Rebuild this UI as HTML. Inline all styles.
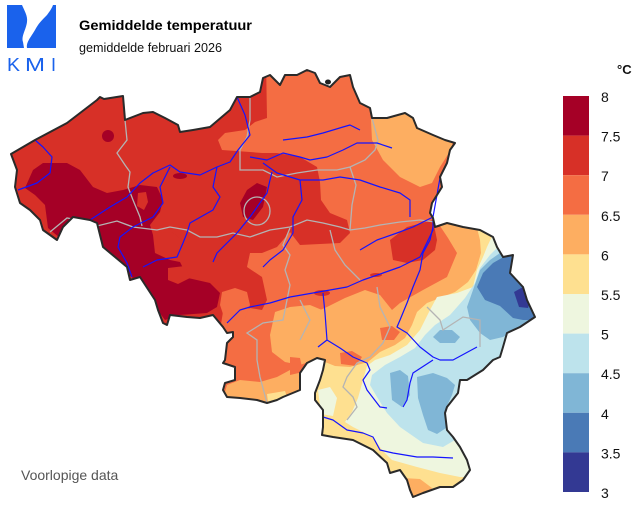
<!DOCTYPE html>
<html><head><meta charset="utf-8"><style>
html,body{margin:0;padding:0;background:#fff;}
svg{display:block;}
text{font-family:"Liberation Sans",Arial,sans-serif;}
</style></head><body>
<svg width="640" height="507" viewBox="0 0 640 507" xmlns="http://www.w3.org/2000/svg">
<defs>
<clipPath id="be"><polygon id="bep" points="11,154 35,140 67,123 97,100 100,97 104,99 123,96 125,120 143,113 153,112 165,118 178,125 180,132 193,130 210,127 230,110 237,97 250,97 260,92 263,78 270,75 280,85 285,75 297,75 307,70 315,73 320,83 330,87 340,77 350,75 353,87 360,103 370,108 372,118 387,118 405,113 413,118 417,128 433,135 445,140 455,143 450,150 447,163 440,177 442,187 432,203 430,213 433,218 435,227 447,223 463,227 480,230 493,237 497,247 503,257 513,255 510,273 523,287 527,300 535,317 520,327 507,333 503,347 500,357 493,360 483,370 467,380 460,380 458,393 447,407 445,413 447,430 453,437 460,447 467,460 470,470 463,480 453,487 440,487 423,493 413,497 410,490 407,480 400,470 390,473 387,463 373,450 353,440 333,437 322,435 323,427 323,410 315,400 315,393 320,380 323,370 325,360 317,358 307,363 300,373 300,390 283,397 277,400 267,403 257,400 240,398 227,397 223,390 225,383 235,380 235,367 223,363 225,360 227,343 233,337 233,332 227,333 223,327 213,315 200,318 187,317 170,315 167,325 163,323 158,310 155,300 140,277 130,280 127,267 103,247 97,223 90,220 73,217 63,227 57,240 43,230 40,220 30,210 20,203 15,187 17,170"/></clipPath>
</defs>

<!-- Logo -->
<g fill="#1a62ec">
<path d="M7,5 L22,5 C24,10 28,16 27,22 C26,30 21,36 23,42 L24,48 L7,48 Z"/>
<path d="M53,5 L56,5 L56,48 L27,48 C26,42 31,37 35,30 C38,24 42,20 47,15 C50,11 52,8 53,5 Z"/>
</g>
<g font-size="18" fill="#1a62ec">
<text x="7" y="71" textLength="13" lengthAdjust="spacingAndGlyphs">K</text>
<text x="25" y="71" textLength="20" lengthAdjust="spacingAndGlyphs">M</text>
<text x="51" y="71">I</text>
</g>

<!-- Titles -->
<text x="79" y="30" font-size="14" font-weight="bold" fill="#000" textLength="173" lengthAdjust="spacingAndGlyphs">Gemiddelde temperatuur</text>
<text x="79" y="52" font-size="13" fill="#111" textLength="143" lengthAdjust="spacingAndGlyphs">gemiddelde februari 2026</text>

<!-- Map -->
<g clip-path="url(#be)" stroke="none">
<rect x="0" y="60" width="560" height="447" fill="#f46d43"/>
<!-- red 7-7.5 -->
<polygon fill="#d73027" points="0,60 266,60 267,118 255,122 245,130 225,133 218,140 222,150 250,152 262,153 277,153 300,157 317,167 320,182 321,200 330,213 347,220 350,233 340,243 300,245 290,232 277,247 262,253 250,253 247,267 262,277 267,300 262,310 250,308 240,315 228,312 225,300 220,330 0,330"/>
<polygon fill="#d73027" points="390,240 407,227 433,220 437,240 435,250 423,260 407,263 393,260"/>
<ellipse cx="322" cy="293" rx="8" ry="3" fill="#d73027"/>
<ellipse cx="376" cy="275" rx="6" ry="2" fill="#d73027"/>
<!-- orange patches within red -->
<polygon fill="#f46d43" points="222,292 235,288 247,292 250,305 245,318 225,320 220,305"/>
<!-- dark red 7.5-8 -->
<polygon fill="#a50026" points="33,170 43,163 67,163 80,170 93,187 107,193 123,190 140,185 157,187 163,200 160,212 150,225 153,235 155,253 170,260 180,262 188,278 210,283 220,293 217,307 207,313 180,315 165,320 150,300 135,280 100,250 97,240 60,238 48,228 45,205 35,195 25,188"/>
<polygon fill="#d73027" points="157,233 172,232 182,240 181,252 170,256 158,252"/>
<polygon fill="#d73027" points="138,193 146,192 148,202 144,210 137,206"/>
<polygon fill="#d73027" points="168,268 185,266 190,278 178,284 168,280"/>
<polygon fill="#a50026" points="247,190 257,183 267,187 263,207 253,220 243,217 240,203"/>
<circle cx="108" cy="136" r="6" fill="#a50026"/>
<ellipse cx="180" cy="176" rx="7" ry="3" fill="#a50026"/>
<!-- light orange 6-6.5 -->
<polygon fill="#fdae61" points="370,100 372,140 383,160 400,177 420,187 432,183 440,167 452,148 455,100"/>
<polygon fill="#fdae61" points="275,312 290,307 310,305 322,310 322,330 320,358 300,365 285,362 272,352 270,335"/>
<polygon fill="#fdae61" points="227,385 240,380 260,382 277,377 290,370 300,367 305,410 220,410"/>
<polygon fill="#fee090" points="267,394 285,391 288,400 268,402"/>
<polygon fill="#fdae61" points="320,310 327,307 345,298 365,290 380,295 392,310 400,303 423,290 447,277 457,253 448,238 440,226 470,215 560,220 560,507 300,507 300,380 318,360"/>
<polygon fill="#f46d43" points="380,328 392,326 400,332 394,340 382,340"/>
<polygon fill="#f46d43" points="340,353 352,351 362,357 356,366 341,364"/>
<polygon fill="#f46d43" points="290,357 300,358 303,372 290,375"/>
<!-- yellow 5.5-6 -->
<polygon fill="#fee090" points="475,220 480,240 481,253 476,270 468,282 455,292 440,298 427,303 417,312 412,325 405,338 395,345 380,352 368,362 350,367 335,366 325,362 312,368 305,400 320,507 560,507 560,200"/>
<!-- light green 5-5.5 -->
<polygon fill="#eef6df" points="495,230 487,247 483,257 477,270 473,287 457,293 437,297 430,310 420,330 407,345 390,355 375,360 367,366 363,380 358,398 352,412 345,422 353,427 373,437 382,450 392,460 417,467 440,473 460,477 560,478 560,220"/>
<polygon fill="#eef6df" points="318,390 330,387 337,398 333,416 321,414"/>
<!-- light blue 4.5-5 -->
<polygon fill="#bde3ec" points="500,245 490,255 480,268 475,283 465,298 450,315 435,325 425,335 415,348 400,357 385,365 372,375 370,385 377,397 387,413 400,427 423,443 443,447 455,440 560,436 560,230"/>
<!-- mid blue 4-4.5 -->
<polygon fill="#80b6d6" points="510,250 500,253 490,260 480,270 473,290 467,307 470,320 480,333 490,340 503,337 515,330 560,330 560,250"/>
<polygon fill="#80b6d6" points="390,373 400,370 408,376 410,395 402,407 392,400"/>
<polygon fill="#80b6d6" points="417,377 433,373 447,378 455,385 452,395 445,410 446,428 437,434 428,430 423,415 418,398"/>
<polygon fill="#80b6d6" points="433,337 440,330 452,330 460,337 455,343 440,343"/>
<!-- blue 3.5-4 -->
<polygon fill="#4a7ab6" points="477,287 483,273 493,263 507,255 515,258 525,285 545,320 523,320 513,318 500,306 485,300"/>
<!-- dark blue 3-3.5 -->
<polygon fill="#333993" points="514,292 523,287 531,299 528,308 519,307"/>
<!-- light orange tip -->
<polygon fill="#fdae61" points="403,478 420,479 432,488 428,505 400,505"/>
</g>

<!-- province borders -->
<g clip-path="url(#be)" fill="none" stroke="#b4b4b4" stroke-width="1.3">
<polyline points="123,97 125,120 127,140 117,153 125,165 130,172 128,187 133,200 140,217 142,226"/>
<polyline points="50,232 67,218 83,221 97,226 117,221 133,227 157,230 170,227 187,230 200,237 217,237 233,233 250,237 270,230 290,227 307,220 323,223 340,227 350,230 365,228 380,225 400,222 420,220 435,222"/>
<polyline points="250,97 250,120 247,137 240,150 240,170 263,170 277,177 297,173 317,170 337,170 350,167 365,160 375,150 378,140 372,118"/>
<polyline points="350,167 356,185 352,205 350,230"/>
<ellipse cx="257" cy="211" rx="13" ry="14"/>
<polyline points="287,300 290,285 285,270 290,255 283,245 290,228"/>
<polyline points="287,300 283,320 263,323 247,333 257,340 257,360 260,377 267,403"/>
<polyline points="377,287 380,307 390,327 383,343 370,357 357,363 347,377 343,387 353,397 357,407 347,420"/>
<polyline points="427,307 440,320 443,330 463,317 480,320 480,347"/>
<polyline points="330,230 335,250 345,265 360,280"/>
<polyline points="300,300 310,320 300,340"/>
</g>

<!-- rivers -->
<g fill="none" stroke="#1414ff" stroke-width="1.2" stroke-linejoin="round">
<polyline points="35,140 43,147 52,157 50,173 37,183 18,190"/>
<polyline points="90,220 110,207 127,197 140,183 153,173 170,165 180,172 200,175 217,167 230,162 238,150 250,135 245,115 237,97"/>
<polyline points="132,277 127,263 118,247 120,237 133,227 153,217 163,203 160,187 170,167"/>
<polyline points="217,167 213,187 220,197 213,210 190,223 187,233 183,243 177,257 157,260 143,267"/>
<polyline points="272,172 270,180 267,193 250,217 237,233 217,253 213,262"/>
<polyline points="250,157 267,160 283,153 300,157 310,160 327,157 343,150 357,143 377,143 392,148"/>
<polyline points="283,140 307,137 323,133 343,127 350,125 360,130"/>
<polyline points="263,163 277,173 300,180 323,180 340,177 360,180 380,187 400,193 410,200 410,217"/>
<polyline points="300,180 302,200 293,217 293,233 283,250 270,260 263,267"/>
<polyline points="440,178 433,217 433,230 420,257 400,267 383,273 363,280 347,287 330,290 313,293 290,297 270,303 250,307 240,310 227,323"/>
<polyline points="360,250 377,240 397,233 413,227 433,217"/>
<polyline points="323,293 325,313 327,340 318,347"/>
<polyline points="327,340 340,348 353,357 367,363 370,370 363,380 367,390 380,407 387,408"/>
<polyline points="433,227 430,240 423,253 420,270 413,287 407,303 400,320 397,327 407,333 420,347 433,357 440,360 453,360 477,347"/>
<polyline points="433,360 413,373 410,383 407,400 403,407"/>
<polyline points="323,417 333,420 347,430 363,433 373,437 380,450 393,453 417,457 433,457 453,458"/>
</g>

<!-- outline -->
<use href="#bep" fill="none" stroke="#2a2a2a" stroke-width="2" stroke-linejoin="round"/>
<ellipse cx="328" cy="82" rx="3" ry="2.5" fill="#222"/>

<text x="21" y="480" font-size="14" fill="#555">Voorlopige data</text>

<!-- legend -->
<text x="617" y="74" font-size="13" font-weight="bold" fill="#111">°C</text>
<g>
<rect x="563" y="96" width="26" height="39.6" fill="#a50026"/>
<rect x="563" y="135.6" width="26" height="39.6" fill="#d73027"/>
<rect x="563" y="175.2" width="26" height="39.6" fill="#f46d43"/>
<rect x="563" y="214.8" width="26" height="39.6" fill="#fdae61"/>
<rect x="563" y="254.4" width="26" height="39.6" fill="#fee090"/>
<rect x="563" y="294" width="26" height="39.6" fill="#eef6df"/>
<rect x="563" y="333.6" width="26" height="39.6" fill="#bde3ec"/>
<rect x="563" y="373.2" width="26" height="39.6" fill="#80b6d6"/>
<rect x="563" y="412.8" width="26" height="39.6" fill="#4a7ab6"/>
<rect x="563" y="452.4" width="26" height="39.6" fill="#333993"/>
</g>
<g font-size="14" fill="#111">
<text x="601" y="102">8</text>
<text x="601" y="141.6">7.5</text>
<text x="601" y="181.2">7</text>
<text x="601" y="220.8">6.5</text>
<text x="601" y="260.4">6</text>
<text x="601" y="300">5.5</text>
<text x="601" y="339.6">5</text>
<text x="601" y="379.2">4.5</text>
<text x="601" y="418.8">4</text>
<text x="601" y="458.4">3.5</text>
<text x="601" y="498">3</text>
</g>
</svg>
</body></html>
